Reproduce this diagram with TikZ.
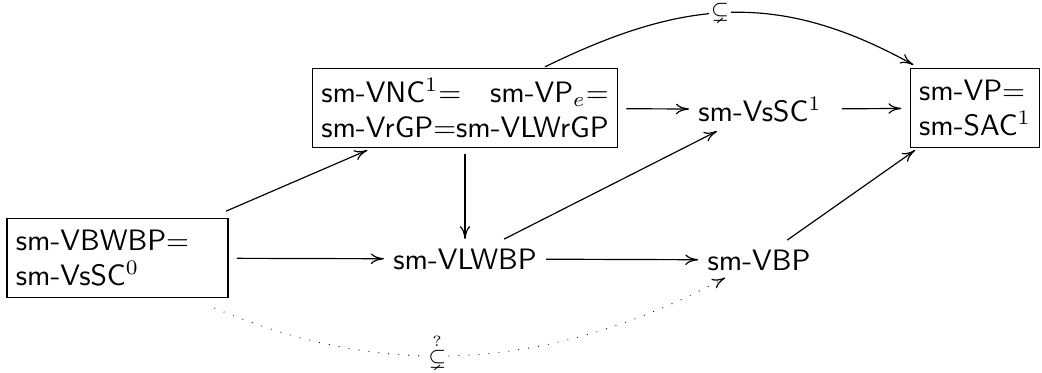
\documentclass[tikz,border=0pt]{standalone}
\usepackage{amsmath,amssymb}
\usetikzlibrary{arrows.meta,calc}
\newlength\wvnc
\newlength\wvp
\AtBeginDocument{%
  \settowidth\wvnc{\sffamily sm-VrGP$=$sm-VLWrGP}%
  \settowidth\wvp{\sffamily sm-SAC$^1$}}
\begin{document}
\begin{tikzpicture}[x=0.339pt,y=0.339pt,
  every node/.style={font=\sffamily},
  framed/.style={draw, line width=0.4pt, inner sep=3pt, outer xsep=3pt, outer ysep=1pt,
                 align=left, minimum height=26.6pt},
  lbl/.style={inner sep=3pt},
  arr/.style={line width=0.4pt, -{Computer Modern Rightarrow[length=4.4pt,width=3.6pt]}},
  dotarr/.style={arr, line cap=round, dash pattern=on 0pt off 3.4pt},
  tag/.style={fill=white, inner sep=0.6pt}]
\useasboundingbox (0,0) rectangle (1042,-372);

% boxed classes
\node[framed, text width=\wvnc] (vnc) at (465,-108)
  {sm-VNC$^1$$=$\hfill sm-VP$_e$$=$\\sm-VrGP$=$sm-VLWrGP};
\node[framed, text width=\wvp] (vp) at (975,-108) {sm-VP$=$\\sm-SAC$^1$};
\node[framed, text width=68.9pt] (vbwbp) at (117.5,-258) {sm-VBWBP$=$\\sm-VsSC$^0$};

% plain classes
\node[lbl, anchor=base] (vssc) at (760,-121) {sm-VsSC$^1$};
\node[lbl, anchor=base] (vlwbp) at (465,-269) {sm-VLWBP};
\node[lbl, anchor=base] (vbp) at (759,-270) {sm-VBP};

% inclusions
\draw[arr] (vnc) -- (vssc);
\draw[arr, shorten <=3.7pt] (vssc) -- (vp);
\draw[arr, shorten <=1.3pt] (vnc) -- (vlwbp);
\draw[arr] (vbwbp) -- (vlwbp);
\draw[arr] (vlwbp) -- (vbp);
\draw[arr, shorten <=4pt] (vbwbp) -- (vnc);
\draw[arr] (vlwbp) -- (vssc);
\draw[arr] (vbp) -- (vp);

% strict inclusion over the top
\draw[arr] ($(vnc.north)+(80,-1)$) to[out=26, in=151, looseness=1.07]
  node[tag, pos=0.47] {$\scriptstyle\subsetneq$} ($(vp.north west)+(12,1)$);

% open question along the bottom
\draw[dotarr] ($(vbwbp.south east)+(-22,-8)$) to[out=-23, in=208, looseness=0.96]
  node[tag, pos=0.43, yshift=1.7pt] {$\scriptstyle\overset{?}{\subsetneq}$}
  ($(vbp.south west)+(27,2)$);
\end{tikzpicture}
\end{document}
